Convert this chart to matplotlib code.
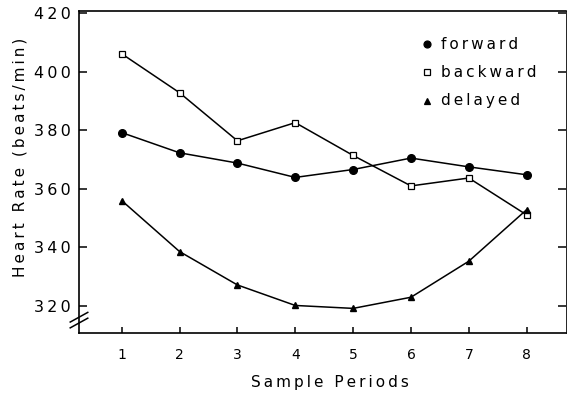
import matplotlib
matplotlib.use("Agg")
import matplotlib.pyplot as plt

periods = [1, 2, 3, 4, 5, 6, 7, 8]
forward = [379.2, 372.3, 368.8, 363.9, 366.6, 370.5, 367.5, 364.8]
backward = [406.1, 392.8, 376.4, 382.6, 371.4, 361.0, 363.7, 351.1]
delayed = [356.0, 338.6, 327.2, 320.2, 319.2, 323.0, 335.3, 352.9]
yticks = [320, 340, 360, 380, 400, 420]
series_names = ["forward", "backward", "delayed"]

SP = "\u2009"
def spaced(s):
    return SP.join(list(s))

plt.rcParams['font.family'] = ['DejaVu Sans']
fig = plt.figure(figsize=(5.67, 3.94), dpi=100)
ax = fig.add_axes([79/567, 61/394, 487/567, 322/394])

lw = 1.1
ax.plot(periods, forward, color='black', lw=lw, marker='o', ms=5.5, mfc='black', mec='black')
ax.plot(periods, backward, color='black', lw=lw, marker='s', ms=4.5, mfc='white', mec='black', mew=0.9)
ax.plot(periods, delayed, color='black', lw=lw, marker='^', ms=4.5, mfc='black', mec='black')

ax.set_xlim(0.262, 8.68)
ax.set_ylim(310.8, 420.7)
ax.set_xticks(periods)
ax.set_yticks(yticks)
ax.set_xticklabels([str(p) for p in periods], fontsize=10)
ax.set_yticklabels([spaced(str(v)) for v in yticks], fontsize=11.5)
ax.tick_params(axis='y', direction='in', length=6, width=1.1, pad=6, right=True)
ax.tick_params(axis='x', direction='in', length=4.5, width=1.1, pad=11)
for s in ax.spines.values():
    s.set_linewidth(1.2)
ax.spines['right'].set_linewidth(0.6)

# axis break marks on left spine
for dy in (0.0, 0.018):
    ax.plot([-0.018, 0.018], [0.016 + dy, 0.046 + dy], transform=ax.transAxes,
            color='black', lw=1.1, clip_on=False)

# legend
markers = [dict(marker='o', ms=5, mfc='black'), dict(marker='s', ms=4.5, mfc='white'),
           dict(marker='^', ms=4.5, mfc='black')]
ys = [0.8975, 0.8096, 0.7214]
for name, mk, y in zip(series_names, markers, ys):
    ax.plot([0.7146], [y], transform=ax.transAxes, color='black', mec='black', mew=0.9,
            ls='none', clip_on=False, **mk)
    ax.text(0.743, y, spaced(name), transform=ax.transAxes, fontsize=11, va='center', ha='left')

fig.text(20/567, 1 - 157/394, spaced("Heart Rate (beats/min)"), rotation=90,
         fontsize=11, ha='center', va='center')
fig.text(330/567, 1 - 382/394, spaced("Sample Periods"), fontsize=11, ha='center', va='center')

fig.savefig("out.png", dpi=100)
